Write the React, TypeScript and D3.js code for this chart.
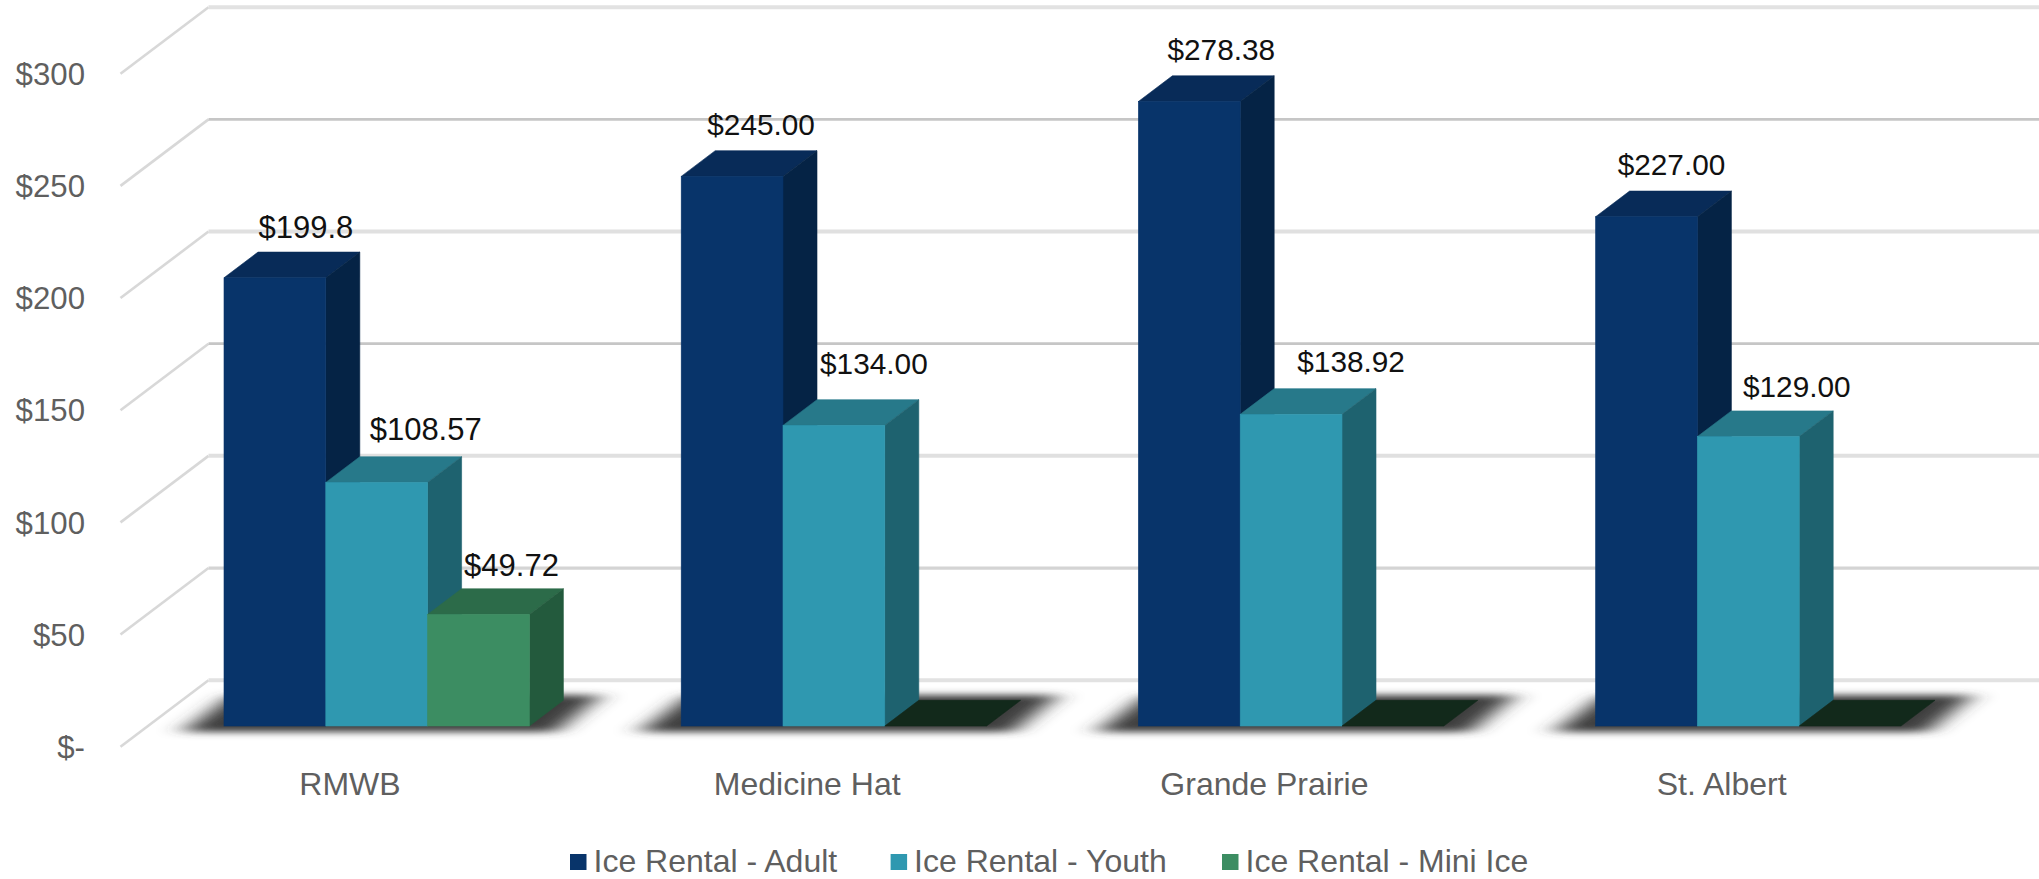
import React from "react";
import * as d3 from "d3";

const categories = ["RMWB", "Medicine Hat", "Grande Prairie", "St. Albert"];
const seriesNames = ["Ice Rental - Adult", "Ice Rental - Youth", "Ice Rental - Mini Ice"];
const adult = [199.8, 245.0, 278.38, 227.0];
const youth = [108.57, 134.0, 138.92, 129.0];
const mini = [49.72, 0, 0, 0];
const adultLabels = ["$199.8", "$245.00", "$278.38", "$227.00"];
const youthLabels = ["$108.57", "$134.00", "$138.92", "$129.00"];
const miniLabels = ["$49.72", "", "", ""];
const yTicks = [0, 50, 100, 150, 200, 250, 300];
const yTickLabels = ["$-", "$50", "$100", "$150", "$200", "$250", "$300"];

const series = [adult, youth, mini];
const seriesLabels = [adultLabels, youthLabels, miniLabels];
const faces = [
  { front: "#08346a", top: "#082b58", side: "#052345", empty: "#082b58" },
  { front: "#2f98b0", top: "#27798a", side: "#1e626f", empty: "#27798a" },
  { front: "#3c8d62", top: "#2c6b49", side: "#235a3d", empty: "#12291b" },
];
// label nudges relative to the bar's front-centre and back-top edge
const labelNudgeX = [
  [31, 29, 32, 25],
  [49, 40, 60, 48.5],
  [33, 0, 0, 0],
];
const labelNudgeY = [
  [-14, -15.5, -16, -16],
  [-17, -25.7, -17, -14],
  [-13, 0, 0, 0],
];
const labelFontSize = [31, 29.8, 29.8, 29.8];
// resampled gridlines in the reference alternate light and dark
const gridStroke = ["#e2e2e2", "#d4d4d4", "#e0e0e0", "#c6c6c6", "#e0e0e0", "#c6c6c6", "#e2e2e2"];
const gridWidth = [4, 3.2, 4, 2.8, 4, 2.8, 4];

const W = 2039;
const H = 879;
const FONT = "'Liberation Sans', Arial, sans-serif";
const barDX = 34;
const barDY = 25.7;
const gridFrontDY = 20.7;
const gridBackDY = -45.8;
const gridLeft = 120.5;
const gridBack = 208.5;

const y = d3.scaleLinear().domain([0, 300]).range([726, 53]);
const x0 = d3
  .scaleBand<string>()
  .domain(categories)
  .range([148.1, 148.1 + 4 * 457.2])
  .paddingInner((457.2 - 305.4) / 457.2)
  .paddingOuter((457.2 - 305.4) / 457.2 / 2);
const x1 = d3.scaleBand<string>().domain(seriesNames).range([0, x0.bandwidth()]);

const line = d3.line();
const poly = (pts: [number, number][]) => line(pts) + "Z";

const legendSwatchX = [570, 890.6, 1222];

export default function App() {
  React.useEffect(() => {
    document.body.style.margin = "0";
  }, []);
  const base = y(0);
  return (
    <svg
      width={W}
      height={H}
      viewBox={`0 0 ${W} ${H}`}
      style={{ position: "absolute", left: 0, top: 0, background: "#fff", display: "block" }}
      fontFamily={FONT}
    >
      <defs>
        <filter id="soft" x="-20%" y="-80%" width="140%" height="260%">
          <feGaussianBlur stdDeviation="13 3.5" />
        </filter>
      </defs>

      {/* gridlines */}
      {yTicks.map((t, i) => (
        <g key={t} fill="none">
          <path
            d={
              line([
                [gridLeft, y(t) + gridFrontDY],
                [gridBack, y(t) + gridBackDY],
              ]) as string
            }
            stroke="#d8d8d8"
            strokeWidth={2.6}
          />
          <path
            d={
              line([
                [gridBack, y(t) + gridBackDY],
                [W, y(t) + gridBackDY],
              ]) as string
            }
            stroke={gridStroke[i]}
            strokeWidth={gridWidth[i]}
          />
        </g>
      ))}

      {/* y labels */}
      {yTicks.map((t, i) => (
        <text
          key={t}
          x={85}
          y={y(t) + gridFrontDY + 11.2}
          textAnchor="end"
          fontSize={31.2}
          fill="#5f5f5f"
        >
          {yTickLabels[i]}
        </text>
      ))}

      {/* floor shadows */}
      {categories.map((c) => {
        const l = x0(c) as number;
        const r = l + x0.bandwidth();
        return (
          <path
            key={c}
            d={poly([
              [l - 42, base + 6],
              [r + 26, base + 6],
              [r + 72, base - 31],
              [l + 8, base - 31],
            ])}
            fill="#3c3c3c"
            filter="url(#soft)"
          />
        );
      })}

      {/* bars */}
      {categories.map((c, ci) => (
        <g key={c}>
          {seriesNames.map((s, si) => {
            const l = (x0(c) as number) + (x1(s) as number);
            const r = l + x1.bandwidth();
            const v = series[si][ci];
            const t = y(v);
            const f = faces[si];
            return (
              <g key={s}>
                <path
                  d={poly([
                    [l, t],
                    [r, t],
                    [r + barDX, t - barDY],
                    [l + barDX, t - barDY],
                  ])}
                  fill={v === 0 ? f.empty : f.top}
                  stroke={v === 0 ? f.empty : f.top}
                  strokeWidth={0.6}
                />
                {v > 0 && (
                  <>
                    <path
                      d={poly([
                        [r, t],
                        [r + barDX, t - barDY],
                        [r + barDX, base - barDY],
                        [r, base],
                      ])}
                      fill={f.side}
                      stroke={f.side}
                      strokeWidth={0.6}
                    />
                    <rect
                      x={l}
                      y={t}
                      width={x1.bandwidth()}
                      height={base - t}
                      fill={f.front}
                      stroke={f.front}
                      strokeWidth={0.6}
                    />
                  </>
                )}
              </g>
            );
          })}
        </g>
      ))}

      {/* data labels */}
      {categories.map((c, ci) =>
        seriesNames.map((s, si) => {
          const text = seriesLabels[si][ci];
          if (!text) return null;
          const cx = (x0(c) as number) + (x1(s) as number) + x1.bandwidth() / 2;
          const backTop = y(series[si][ci]) - barDY;
          return (
            <text
              key={c + s}
              x={cx + labelNudgeX[si][ci]}
              y={backTop + labelNudgeY[si][ci]}
              textAnchor="middle"
              fontSize={labelFontSize[ci]}
              fill="#111"
            >
              {text}
            </text>
          );
        })
      )}

      {/* category labels */}
      {categories.map((c) => (
        <text
          key={c}
          x={(x0(c) as number) + 126}
          y={795}
          textAnchor="middle"
          fontSize={32}
          fill="#5f5f5f"
        >
          {c}
        </text>
      ))}

      {/* legend */}
      {seriesNames.map((s, si) => (
        <g key={s}>
          <rect x={legendSwatchX[si]} y={854} width={16.5} height={16} fill={faces[si].front} />
          <text x={legendSwatchX[si] + 23.5} y={872} fontSize={32} fill="#5f5f5f">
            {s}
          </text>
        </g>
      ))}
    </svg>
  );
}
